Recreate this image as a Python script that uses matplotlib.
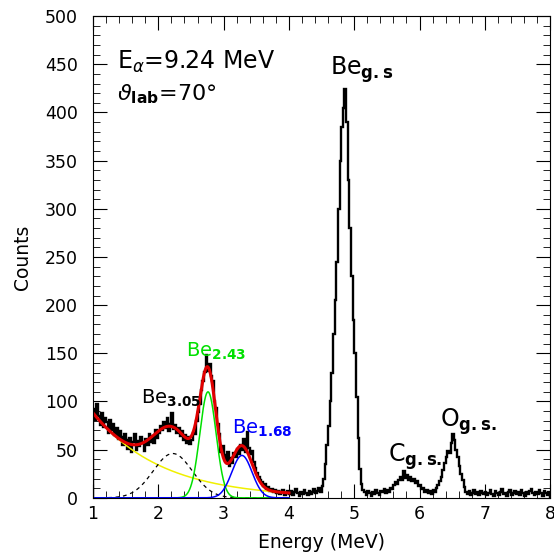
import numpy as np
import matplotlib.pyplot as plt
from matplotlib.ticker import MultipleLocator

plt.rcParams['font.family'] = ['DejaVu Sans']
plt.rcParams['mathtext.fontset'] = 'dejavusans'

# spectrum, 0.025 MeV bins starting at 1 MeV
e_start = 1.0
bin_width = 0.025
counts = [
    92, 81, 97, 85, 76, 88, 74, 83, 79, 67, 81, 70, 77, 65, 72, 61, 69, 63, 55, 66,
    60, 51, 62, 48, 58, 66, 50, 59, 54, 63, 57, 49, 61, 55, 66, 58, 64, 57, 70, 62,
    67, 75, 70, 79, 72, 83, 69, 77, 88, 71, 76, 67, 73, 64, 69, 60, 65, 57, 63, 56,
    60, 67, 66, 80, 89, 97, 112, 121, 131, 148, 132, 139, 126, 121, 101, 93, 77, 66, 48, 54,
    44, 38, 48, 33, 41, 36, 47, 42, 51, 46, 55, 50, 61, 48, 68, 52, 45, 49, 37, 31,
    26, 22, 19, 16, 12, 14, 9, 11, 7, 9, 6, 8, 5, 7, 4, 6, 8, 3, 5, 7,
    4, 7, 3, 6, 9, 5, 2, 6, 4, 8, 5, 3, 7, 4, 6, 9, 5, 7, 10, 6,
    12, 20, 35, 55, 75, 100, 130, 170, 205, 245, 300, 350, 385, 405, 424, 390,
    330, 280, 230, 185, 150, 105, 62, 30, 14, 8,
    6, 3, 7, 5, 2, 6, 4, 8, 5, 3, 7, 6, 9, 5,
    8, 6, 10, 9, 13, 16, 14, 19, 22, 18, 28, 21, 24, 19, 22, 17, 20, 15, 17, 12,
    13, 9, 10, 6, 8, 5, 7, 4, 8, 6, 10, 13, 17, 22, 29, 36, 42, 49, 47, 57,
    66, 60, 50, 42, 33, 25, 18, 11, 6, 4, 7, 3, 5, 8, 4, 6, 3, 7, 5, 4,
    6, 3, 5, 8, 4, 2, 7, 5, 3, 6, 9, 4, 5, 2, 6, 8, 3, 5, 7, 4,
    6, 3, 8, 5, 2, 6, 4, 7, 9, 5, 3, 6, 4, 8, 5, 2, 7, 5, 3, 6,
]

# fit: exponential background + three gaussians (amp, centre, sigma)
fit_range = (1.0, 4.0)
bg_amp, bg_slope = 88, 0.95
g_305 = (46, 2.22, 0.30)
g_243 = (110, 2.76, 0.125)
g_168 = (44, 3.28, 0.155)

edges = e_start + bin_width * np.arange(len(counts) + 1)
xf = np.linspace(fit_range[0], fit_range[1], 600)


def gauss(x, p):
    a, mu, s = p
    return a * np.exp(-(x - mu) ** 2 / (2 * s ** 2))


bg = bg_amp * np.exp(-bg_slope * (xf - 1.0))
y305 = gauss(xf, g_305)
y243 = gauss(xf, g_243)
y168 = gauss(xf, g_168)
total = bg + y305 + y243 + y168

fig = plt.figure(figsize=(5.54, 5.55), dpi=100)
ax = fig.add_axes([0.168, 0.103, 0.825, 0.868])

ax.stairs(counts, edges, color='black', lw=1.7)
ax.plot(xf, bg, color='#f0f000', lw=1.1)
ax.plot(xf, y305, color='black', lw=0.9, ls=(0, (3, 3)))
ax.plot(xf, y243, color='#00e000', lw=1.1)
ax.plot(xf, y168, color='#0000ff', lw=1.1)
ax.plot(xf, total, color='#e00000', lw=2.2)

ax.set_xlim(1, 8)
ax.set_ylim(0, 500)
ax.xaxis.set_major_locator(MultipleLocator(1))
ax.xaxis.set_minor_locator(MultipleLocator(0.2))
ax.yaxis.set_major_locator(MultipleLocator(50))
ax.yaxis.set_minor_locator(MultipleLocator(10))
ax.tick_params(which='both', direction='in', top=True, right=True, labelsize=12.5)
ax.tick_params(which='major', length=10)
ax.tick_params(which='minor', length=5)
ax.tick_params(axis='y', pad=11)
ax.tick_params(axis='x', pad=5)

ax.set_xlabel('Energy (MeV)', fontsize=13.5, labelpad=7)
ax.set_ylabel('Counts', fontsize=13.5, labelpad=9)

ax.text(1.37, 445, r'E$_{\alpha}$=9.24 MeV', fontsize=17)
ax.text(1.37, 413, r'$\vartheta_{\mathbf{lab}}$=70°', fontsize=16)

ax.text(4.63, 439, r'Be$_{\mathbf{g.s}}$', fontsize=17)
ax.text(2.42, 146, r'Be$_{\mathbf{2.43}}$', fontsize=14, color='#00e000')
ax.text(1.735, 98, r'Be$_{\mathbf{3.05}}$', fontsize=14)
ax.text(3.13, 67, r'Be$_{\mathbf{1.68}}$', fontsize=14, color='#0000ff')
ax.text(5.52, 37, r'C$_{\mathbf{g.s.}}$', fontsize=17)
ax.text(6.31, 74, r'O$_{\mathbf{g.s.}}$', fontsize=17)

fig.savefig('out.png', dpi=100)
